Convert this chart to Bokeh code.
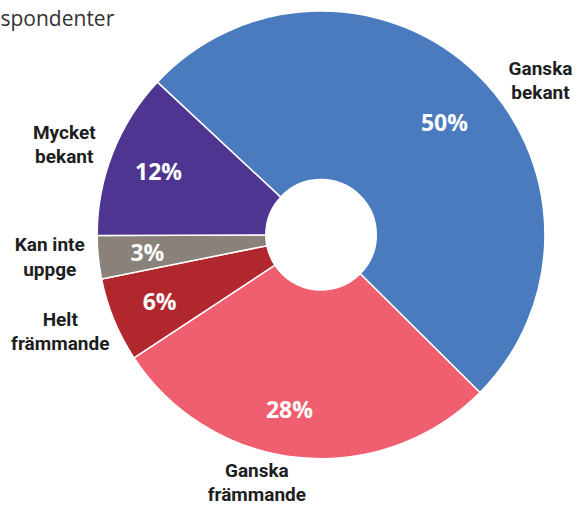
import math
from bokeh.plotting import figure
from bokeh.models import ColumnDataSource, Range1d
from bokeh.core.properties import value
from bokeh.embed import file_html
from bokeh.resources import INLINE

# ---------------- data ----------------
categories = ["Ganska bekant", "Ganska främmande", "Helt främmande", "Kan inte uppge", "Mycket bekant"]
label_lines = ["Ganska\nbekant", "Ganska\nfrämmande", "Helt\nfrämmande", "Kan inte\nuppge", "Mycket\nbekant"]
shares = [50.5, 28.3, 6.1, 3.1, 12.0]
pct_labels = ["50%", "28%", "6%", "3%", "12%"]
subtitle = "spondenter"

# ---------------- style / layout ----------------
colors = ["#4a7bbf", "#f05f70", "#b0282e", "#8b817b", "#4e3592"]
START_DEG = 137.0
R_OUT = 227
R_IN = 56
PCT_R = 177
# (angle offset from slice middle in degrees, radius) for category labels
cat_label_layout = {
    "Ganska bekant": (-11.0, 272),
    "Ganska främmande": (-8.75, 260),
    "Helt främmande": (-2.0, 282),
    "Kan inte uppge": (-1.1, 276),
    "Mycket bekant": (2.0, 276),
}
pct_label_layout = {
    "Ganska bekant": (-3.5, 170),
    "Ganska främmande": (-4.5, 180),
}

LABEL_FONT = "Roboto"
PCT_FONT = "Open Sans"

REF_W, REF_H = 583, 516   # reference canvas in pixels
W, H = 575, 508           # figure size fitting the window
CX, CY = 325, 238         # centre in reference pixels

total = sum(shares)
starts, ends, mids = [], [], []
acc = 0.0
for s in shares:
    a0 = START_DEG - acc / total * 360.0
    a1 = a0 - s / total * 360.0
    starts.append(math.radians(a0))
    ends.append(math.radians(a1))
    mids.append((a0 + a1) / 2.0)
    acc += s

src = ColumnDataSource(dict(cat=categories, start=starts, end=ends, color=colors,
                            x=[0] * len(shares), y=[0] * len(shares)))

p = figure(width=W, height=H, output_backend="svg", toolbar_location=None,
           x_range=Range1d(-CX, REF_W - CX), y_range=Range1d(CY - REF_H, CY),
           min_border=0, outline_line_color=None)
p.axis.visible = False
p.grid.visible = False
p.background_fill_color = "white"
p.border_fill_color = "white"

p.annular_wedge(x="x", y="y", inner_radius=R_IN, outer_radius=R_OUT,
                start_angle="start", end_angle="end", direction="clock",
                fill_color="color", line_color="white", line_width=1.5, source=src)

# percent labels
px, py = [], []
for c, m in zip(categories, mids):
    da, r = pct_label_layout.get(c, (0.0, PCT_R))
    a = math.radians(m + da)
    px.append(r * math.cos(a))
    py.append(r * math.sin(a))
p.text(x=px, y=py, text=pct_labels, text_color="white", text_font=value(PCT_FONT),
       text_font_size="23px", text_font_style="bold", text_align="center",
       text_baseline="middle")

# category labels
lx, ly = [], []
for c, m in zip(categories, mids):
    da, r = cat_label_layout[c]
    a = math.radians(m + da)
    lx.append(r * math.cos(a))
    ly.append(r * math.sin(a))
p.text(x=lx, y=ly, text=label_lines, text_color="#1e1e1e", text_font=value(LABEL_FONT),
       text_font_size="19px", text_font_style="bold", text_align="center",
       text_baseline="middle", text_line_height=1.05)

# clipped subtitle at top-left
p.text(x=[-CX], y=[CY - 18], text=[subtitle], text_color="#333333",
       text_font=value("Open Sans"), text_font_size="21px", text_align="left",
       text_baseline="middle")

open("out.html", "w").write(file_html(p, INLINE))
